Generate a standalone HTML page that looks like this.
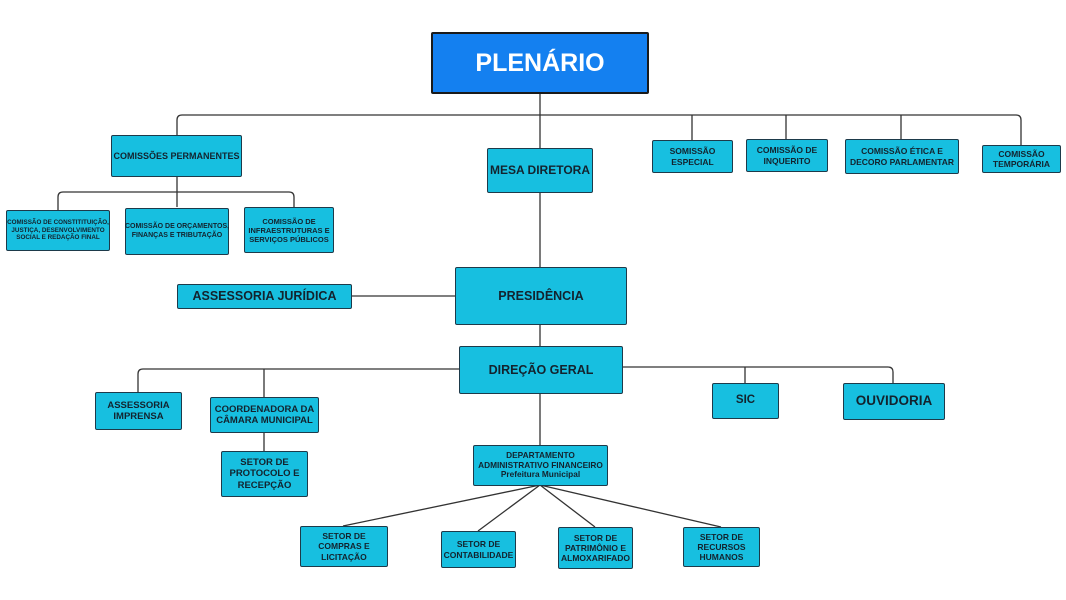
<!DOCTYPE html>
<html><head><meta charset="utf-8"><style>
body{margin:0;width:1066px;height:600px;background:#fff;position:relative;overflow:hidden;font-family:"Liberation Sans",sans-serif}
.b{position:absolute;box-sizing:border-box;background:#17bfe0;border:1.5px solid #1d3a4a;border-radius:2px;color:#13232e;font-weight:bold;display:flex;align-items:center;justify-content:center;text-align:center;line-height:1.2;white-space:nowrap}
svg{position:absolute;left:0;top:0}
</style></head><body>
<svg width="1066" height="600" stroke="#333" stroke-width="1.3" fill="none">
<path d="M540 93V148"/>
<path d="M177 135V120Q177 115 182 115H1016Q1021 115 1021 120V145"/>
<path d="M692 115V140M786 115V139M901 115V139"/>
<path d="M177 176V207M58 210V197Q58 192 63 192H289Q294 192 294 197V207"/>
<path d="M540 192V267M351 296H455M540 324V346"/>
<path d="M459 369H143Q138 369 138 374V392M264 369V397M622 367H888Q893 367 893 372V383M745 367V383"/>
<path d="M264 432V451M540 393V445"/>
<path d="M540 485L343 526M540 485L478 531M540 485L595 527M540 485L721 527"/>
</svg>
<div class="b" style="left:431px;top:32px;width:218px;height:62px;background:#1480f0;border:2px solid #1a1a1a;color:#fff;font-size:25px">PLENÁRIO</div>
<div class="b" style="left:111px;top:135px;width:131px;height:42px;font-size:9px">COMISSÕES PERMANENTES</div>
<div class="b" style="left:487px;top:148px;width:106px;height:45px;font-size:12px">MESA DIRETORA</div>
<div class="b" style="left:652px;top:140px;width:81px;height:33px;font-size:8.5px">SOMISSÃO<br>ESPECIAL</div>
<div class="b" style="left:746px;top:139px;width:82px;height:33px;font-size:8.5px">COMISSÃO DE<br>INQUERITO</div>
<div class="b" style="left:845px;top:139px;width:114px;height:35px;font-size:8.5px">COMISSÃO ÉTICA E<br>DECORO PARLAMENTAR</div>
<div class="b" style="left:982px;top:145px;width:79px;height:28px;font-size:8.5px">COMISSÃO<br>TEMPORÁRIA</div>
<div class="b" style="left:6px;top:210px;width:104px;height:41px;font-size:6.3px">COMISSÃO DE CONSTITITUIÇÃO,<br>JUSTIÇA, DESENVOLVIMENTO<br>SOCIAL E REDAÇÃO FINAL</div>
<div class="b" style="left:125px;top:208px;width:104px;height:47px;font-size:7px">COMISSÃO DE ORÇAMENTOS,<br>FINANÇAS E TRIBUTAÇÃO</div>
<div class="b" style="left:244px;top:207px;width:90px;height:46px;font-size:7.5px">COMISSÃO DE<br>INFRAESTRUTURAS E<br>SERVIÇOS PÚBLICOS</div>
<div class="b" style="left:455px;top:267px;width:172px;height:58px;font-size:12.5px">PRESIDÊNCIA</div>
<div class="b" style="left:177px;top:284px;width:175px;height:25px;font-size:12.5px">ASSESSORIA JURÍDICA</div>
<div class="b" style="left:459px;top:346px;width:164px;height:48px;font-size:12.5px">DIREÇÃO GERAL</div>
<div class="b" style="left:95px;top:392px;width:87px;height:38px;font-size:9.5px">ASSESSORIA<br>IMPRENSA</div>
<div class="b" style="left:210px;top:397px;width:109px;height:36px;font-size:9.5px">COORDENADORA DA<br>CÂMARA MUNICIPAL</div>
<div class="b" style="left:221px;top:451px;width:87px;height:46px;font-size:9.5px">SETOR DE<br>PROTOCOLO E<br>RECEPÇÃO</div>
<div class="b" style="left:712px;top:383px;width:67px;height:36px;font-size:11.5px">SIC</div>
<div class="b" style="left:843px;top:383px;width:102px;height:37px;font-size:13.5px">OUVIDORIA</div>
<div class="b" style="left:473px;top:445px;width:135px;height:41px;font-size:8.3px">DEPARTAMENTO<br>ADMINISTRATIVO FINANCEIRO<br>Prefeitura Municipal</div>
<div class="b" style="left:300px;top:526px;width:88px;height:41px;font-size:8.5px">SETOR DE<br>COMPRAS E<br>LICITAÇÃO</div>
<div class="b" style="left:441px;top:531px;width:75px;height:37px;font-size:8.5px">SETOR DE<br>CONTABILIDADE</div>
<div class="b" style="left:558px;top:527px;width:75px;height:42px;font-size:8.5px">SETOR DE<br>PATRIMÔNIO E<br>ALMOXARIFADO</div>
<div class="b" style="left:683px;top:527px;width:77px;height:40px;font-size:8.5px">SETOR DE<br>RECURSOS<br>HUMANOS</div>
</body></html>
